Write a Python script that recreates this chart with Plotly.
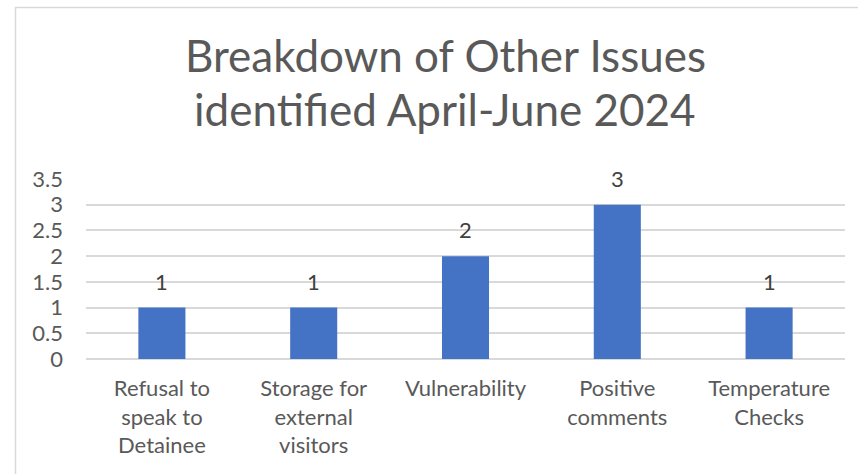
import plotly.graph_objects as go

categories = ["Refusal to<br>speak to<br>Detainee", "Storage for<br>external<br>visitors",
              "Vulnerability", "Positive<br>comments", "Temperature<br>Checks"]
values = [1, 1, 2, 3, 1]
y_ticks = [0, 0.5, 1, 1.5, 2, 2.5, 3, 3.5]
y_tick_labels = ["0", "0.5", "1", "1.5", "2", "2.5", "3", "3.5"]
title_lines = ["Breakdown of Other Issues", "identified April-June 2024"]

W, H = 858, 474
L, R, T, B = 86, 13, 179, 115
ph = H - T - B

def py(ypx):
    return (H - B - ypx) / ph

def px(xpx):
    return (xpx - L) / (W - L - R)

FONT = "Lato"
GRAY = "#595959"

fig = go.Figure(go.Bar(x=categories, y=values, marker_color="#4472C4",
                       marker_line_width=0, width=0.31))

for c, v in zip(categories, values):
    fig.add_annotation(x=c, y=v, xref="x", yref="y", text=str(v), showarrow=False,
                       yanchor="bottom", yshift=11,
                       font=dict(family=FONT, size=22, color="#404040"))

fig.add_annotation(x=px(445), y=py(55), xref="paper", yref="paper", text=title_lines[0],
                   showarrow=False, yanchor="middle", xanchor="center",
                   font=dict(family=FONT, size=44, color=GRAY))
fig.add_annotation(x=px(445), y=py(109), xref="paper", yref="paper", text=title_lines[1],
                   showarrow=False, yanchor="middle", xanchor="center",
                   font=dict(family=FONT, size=44, color=GRAY))

fig.add_shape(type="rect", xref="paper", yref="paper",
              x0=px(15.5), x1=px(900), y0=py(7.5), y1=py(520),
              line=dict(color="#d9d9d9", width=1.5), layer="below")

fig.update_layout(
    width=W, height=H, margin=dict(l=L, r=R, t=T, b=B, autoexpand=False),
    paper_bgcolor="white", plot_bgcolor="white", showlegend=False,
    xaxis=dict(showgrid=False, showline=False, zeroline=False, ticks="",
               tickfont=dict(family=FONT, size=22, color=GRAY), ticklabelstandoff=14),
    yaxis=dict(range=[0, 3.5], tickvals=y_ticks, ticktext=y_tick_labels,
               showgrid=True, gridcolor="#d9d9d9", gridwidth=1.5,
               zeroline=True, zerolinecolor="#d9d9d9", zerolinewidth=1.5,
               showline=False, ticks="", ticklabelstandoff=22,
               tickfont=dict(family=FONT, size=22, color=GRAY)),
)

fig.write_html("out.html", config={"displayModeBar": False},
               post_script="document.body.style.margin='0';")
